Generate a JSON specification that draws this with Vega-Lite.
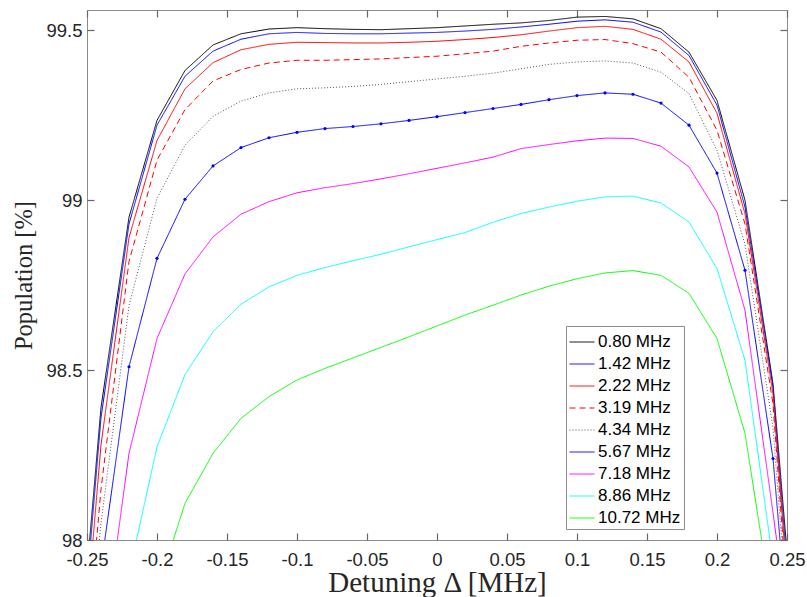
{
  "$schema": "https://vega.github.io/schema/vega-lite/v6.json",
  "width": 700,
  "height": 530,
  "autosize": {"type": "none"},
  "padding": {"left": 87, "top": 10, "right": 20, "bottom": 57},
  "background": "white",
  "config": {
    "view": {"stroke": "#8c8c8c", "strokeWidth": 1},
    "axis": {
      "domain": false,
      "grid": false,
      "zindex": 1,
      "ticks": true,
      "tickColor": "#666666",
      "tickSize": 7,
      "offset": -7,
      "tickWidth": 1.2,
      "tickOpacity": 1,
      "labelFont": "Liberation Sans",
      "labelFontSize": 18.5,
      "labelColor": "#262626",
      "labelFlush": false,
      "labelOverlap": false,
      "titleFont": "Liberation Serif",
      "titleFontWeight": "normal",
      "titleColor": "#262626"
    },
    "legend": {
      "title": null,
      "symbolType": "stroke",
      "symbolSize": 625,
      "symbolStrokeWidth": 1,
      "labelFont": "Liberation Sans",
      "labelFontSize": 17,
      "labelColor": "#000000",
      "labelOffset": 3,
      "rowPadding": 1,
      "padding": 3,
      "strokeColor": "#8c8c8c",
      "fillColor": "#ffffff"
    }
  },
  "data": {
    "values": [
      {"s": "0.80 MHz", "x": [-0.26,-0.24,-0.22,-0.2,-0.18,-0.16,-0.14,-0.12,-0.1,-0.08,-0.06,-0.04,-0.02,0,0.02,0.04,0.06,0.08,0.1,0.12,0.14,0.16,0.18,0.2,0.22,0.24,0.26],
       "y": [97.43,98.39,98.95,99.235,99.382,99.457,99.49,99.504,99.508,99.505,99.503,99.502,99.505,99.508,99.513,99.518,99.522,99.529,99.539,99.541,99.534,99.505,99.436,99.294,99.0,98.46,97.47]},
      {"s": "1.42 MHz", "x": [-0.26,-0.24,-0.22,-0.2,-0.18,-0.16,-0.14,-0.12,-0.1,-0.08,-0.06,-0.04,-0.02,0,0.02,0.04,0.06,0.08,0.1,0.12,0.14,0.16,0.18,0.2,0.22,0.24,0.26],
       "y": [97.38,98.36,98.93,99.221,99.365,99.439,99.474,99.49,99.494,99.491,99.49,99.49,99.492,99.494,99.498,99.503,99.51,99.518,99.527,99.531,99.524,99.495,99.426,99.28,98.98,98.45,97.4]},
      {"s": "2.22 MHz", "x": [-0.26,-0.24,-0.22,-0.2,-0.18,-0.16,-0.14,-0.12,-0.1,-0.08,-0.06,-0.04,-0.02,0,0.02,0.04,0.06,0.08,0.1,0.12,0.14,0.16,0.18,0.2,0.22,0.24,0.26],
       "y": [97.3,98.28,98.89,99.176,99.328,99.405,99.443,99.459,99.465,99.464,99.463,99.463,99.465,99.468,99.473,99.479,99.487,99.498,99.508,99.512,99.503,99.474,99.407,99.256,98.96,98.43,97.34]},
      {"s": "3.19 MHz", "x": [-0.26,-0.24,-0.22,-0.2,-0.18,-0.16,-0.14,-0.12,-0.1,-0.08,-0.06,-0.04,-0.02,0,0.02,0.04,0.06,0.08,0.1,0.12,0.14,0.16,0.18,0.2,0.22,0.24,0.26],
       "y": [97.2,98.15,98.82,99.118,99.267,99.351,99.385,99.404,99.412,99.412,99.414,99.416,99.42,99.424,99.431,99.439,99.453,99.463,99.471,99.473,99.461,99.436,99.362,99.206,98.93,98.4,97.28]},
      {"s": "4.34 MHz", "x": [-0.26,-0.24,-0.22,-0.2,-0.18,-0.16,-0.14,-0.12,-0.1,-0.08,-0.06,-0.04,-0.02,0,0.02,0.04,0.06,0.08,0.1,0.12,0.14,0.16,0.18,0.2,0.22,0.24,0.26],
       "y": [97.2,98.05,98.69,99.006,99.162,99.247,99.292,99.316,99.328,99.331,99.335,99.341,99.349,99.357,99.365,99.374,99.387,99.4,99.407,99.41,99.404,99.377,99.314,99.147,98.87,98.33,97.27]},
      {"s": "5.67 MHz", "x": [-0.26,-0.24,-0.22,-0.2,-0.18,-0.16,-0.14,-0.12,-0.1,-0.08,-0.06,-0.04,-0.02,0,0.02,0.04,0.06,0.08,0.1,0.12,0.14,0.16,0.18,0.2,0.22,0.24,0.26],
       "y": [97.2,97.92,98.51,98.829,99.003,99.101,99.155,99.184,99.2,99.211,99.217,99.225,99.235,99.246,99.258,99.27,99.282,99.296,99.308,99.316,99.312,99.286,99.221,99.08,98.794,98.24,97.28]},
      {"s": "7.18 MHz", "x": [-0.26,-0.24,-0.22,-0.2,-0.18,-0.16,-0.14,-0.12,-0.1,-0.08,-0.06,-0.04,-0.02,0,0.02,0.04,0.06,0.08,0.1,0.12,0.14,0.16,0.18,0.2,0.22,0.24,0.26],
       "y": [96.9,97.645,98.255,98.593,98.783,98.892,98.959,98.996,99.022,99.037,99.049,99.063,99.078,99.094,99.11,99.127,99.152,99.164,99.175,99.183,99.182,99.159,99.098,98.965,98.676,98.08,97.47]},
      {"s": "8.86 MHz", "x": [-0.26,-0.24,-0.22,-0.2,-0.18,-0.16,-0.14,-0.12,-0.1,-0.08,-0.06,-0.04,-0.02,0,0.02,0.04,0.06,0.08,0.1,0.12,0.14,0.16,0.18,0.2,0.22,0.24,0.26],
       "y": [96.5,97.2,97.9,98.274,98.487,98.613,98.694,98.745,98.779,98.802,98.822,98.841,98.863,98.884,98.905,98.935,98.961,98.98,98.997,99.01,99.012,98.992,98.936,98.799,98.529,97.937,97.2]},
      {"s": "10.72 MHz", "x": [-0.26,-0.24,-0.22,-0.2,-0.18,-0.16,-0.14,-0.12,-0.1,-0.08,-0.06,-0.04,-0.02,0,0.02,0.04,0.06,0.08,0.1,0.12,0.14,0.16,0.18,0.2,0.22,0.24,0.26],
       "y": [96.0,96.7,97.3,97.85,98.108,98.255,98.358,98.422,98.471,98.505,98.536,98.567,98.598,98.63,98.662,98.691,98.721,98.747,98.769,98.786,98.793,98.779,98.726,98.593,98.314,97.787,97.0]}
    ]
  },
  "transform": [{"flatten": ["x", "y"]}],
  "layer": [
    {
      "mark": {"type": "line", "strokeWidth": 1, "clip": true},
      "encoding": {
        "x": {
          "field": "x", "type": "quantitative",
          "scale": {"domain": [-0.25, 0.25], "nice": false, "zero": false},
          "axis": {
            "orient": "bottom",
            "values": [-0.25,-0.2,-0.15,-0.1,-0.05,0,0.05,0.1,0.15,0.2,0.25],
            "labelExpr": "'' + datum.value",
            "labelPadding": 10,
            "title": "Detuning Δ [MHz]",
            "titleFontSize": 29,
            "titlePadding": 0
          }
        },
        "y": {
          "field": "y", "type": "quantitative",
          "scale": {"domain": [98, 99.56], "nice": false, "zero": false},
          "axis": {
            "orient": "left",
            "values": [98, 98.5, 99, 99.5],
            "labelExpr": "'' + datum.value",
            "labelPadding": 5,
            "title": "Population [%]",
            "titleFontSize": 24.5,
            "titlePadding": 9
          }
        },
        "color": {
          "field": "s", "type": "nominal",
          "scale": {
            "domain": ["0.80 MHz","1.42 MHz","2.22 MHz","3.19 MHz","4.34 MHz","5.67 MHz","7.18 MHz","8.86 MHz","10.72 MHz"],
            "range": ["#000000","#0000ff","#ff0000","#ff0000","#555555","#0000ff","#ff00ff","#00ffff","#00ff00"]
          },
          "legend": {"orient": "none", "legendX": 479, "legendY": 316, "direction": "vertical"}
        },
        "strokeDash": {
          "field": "s", "type": "nominal",
          "scale": {
            "domain": ["0.80 MHz","1.42 MHz","2.22 MHz","3.19 MHz","4.34 MHz","5.67 MHz","7.18 MHz","8.86 MHz","10.72 MHz"],
            "range": [[1,0],[1,0],[1,0],[6,4],[1,2],[1,0],[1,0],[1,0],[1,0]]
          },
          "legend": {"orient": "none", "legendX": 479, "legendY": 316, "direction": "vertical"}
        }
      }
    },
    {
      "transform": [{"filter": "datum.s == '5.67 MHz'"}],
      "mark": {"type": "point", "filled": true, "size": 10, "color": "#0000ff", "opacity": 1, "clip": true},
      "encoding": {
        "x": {
          "field": "x", "type": "quantitative",
          "scale": {"domain": [-0.25, 0.25], "nice": false, "zero": false},
          "axis": {"orient": "top", "values": [-0.25,-0.2,-0.15,-0.1,-0.05,0,0.05,0.1,0.15,0.2,0.25], "labels": false, "title": null}
        },
        "y": {
          "field": "y", "type": "quantitative",
          "scale": {"domain": [98, 99.56], "nice": false, "zero": false},
          "axis": {"orient": "right", "values": [98, 98.5, 99, 99.5], "labels": false, "title": null}
        }
      }
    }
  ],
  "resolve": {"axis": {"x": "independent", "y": "independent"}}
}
